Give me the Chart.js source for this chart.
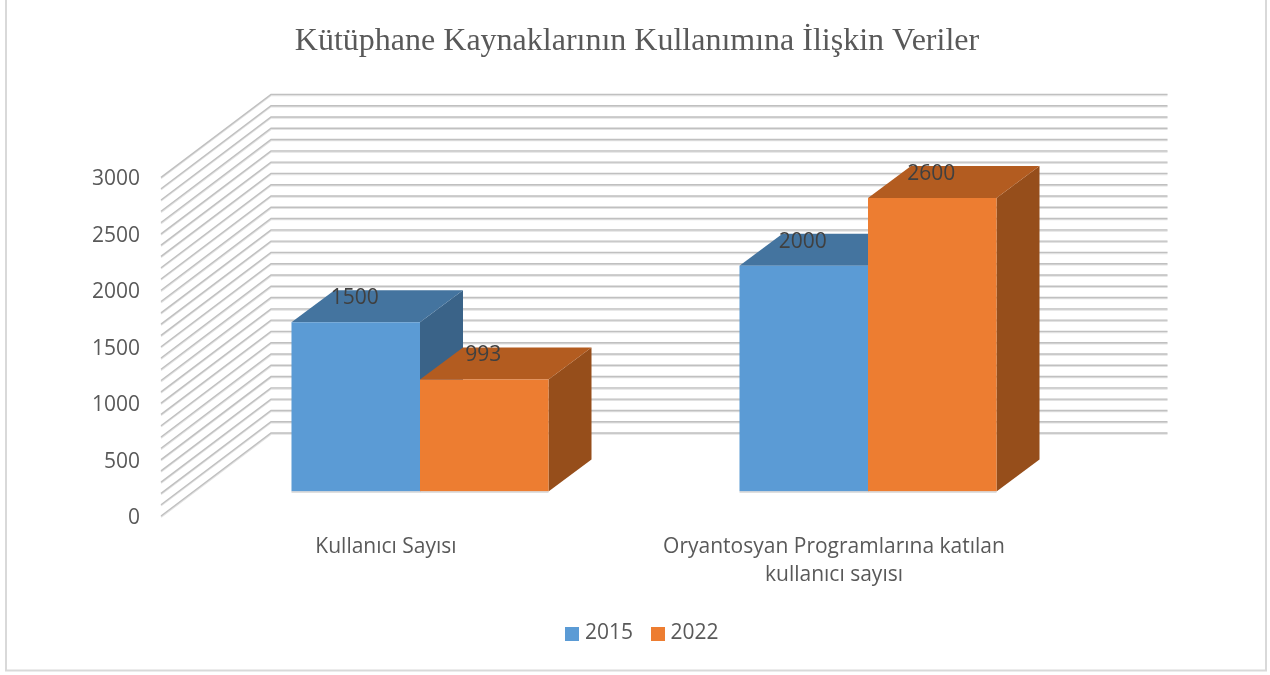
<!DOCTYPE html>
<html><head><meta charset="utf-8">
<style>html,body{margin:0;padding:0;background:#fff;overflow:hidden}canvas{display:block}</style>
<script src="https://cdn.jsdelivr.net/npm/chart.js@4/dist/chart.umd.min.js"></script>
</head><body>
<canvas id="c" width="1270" height="675"></canvas>
<script>
const categories = [['Kullanıcı Sayısı'], ['Oryantosyan Programlarına katılan', 'kullanıcı sayısı']];
const values2015 = [1500, 2000];
const values2022 = [993, 2600];
const seriesNames = ['2015', '2022'];
const titleText = 'Kütüphane Kaynaklarının Kullanımına İlişkin Veriler';

const FONT = 'Open Sans';
const FS = 21;
const wall = {dx: 110, dy: -83};          // floor depth
const barShift = {dx: 35, dy: -24.5};     // bar position on the floor
const barDepth = {dx: 43, dy: -32};
const faces = [{top: '#44749f', side: '#3a6388'}, {top: '#b35c20', side: '#964e1b'}];

const scene = {
  id: 'scene',
  afterLayout(chart) {
    chart.legend.left += 18;      // reference legend sits right of centre
    chart.titleBlock.left += 4;
  },
  beforeDatasetsDraw(chart) {
    const {ctx, scales: {x, y}} = chart;
    ctx.save();
    const L = x.left, R = x.right + wall.dx + 0.5;
    const paths = (off) => {
      for (const t of y.ticks) {
        const py = y.getPixelForValue(t.value) + off;
        ctx.beginPath();
        ctx.moveTo(L, py);
        ctx.lineTo(L + wall.dx, py + wall.dy);
        ctx.lineTo(R, py + wall.dy);
        ctx.stroke();
      }
    };
    ctx.lineWidth = 1.6; ctx.strokeStyle = '#e2e2e2'; paths(1);
    ctx.lineWidth = 1.4; ctx.strokeStyle = '#c0c0c0'; paths(0);
    ctx.translate(barShift.dx, barShift.dy);
    chart.data.datasets.forEach((ds, di) => {
      chart.getDatasetMeta(di).data.forEach(bar => {
        const {x: cx, y: ty, base, width} = bar.getProps(['x', 'y', 'base', 'width'], true);
        const l = cx - width / 2, r = cx + width / 2;
        ctx.fillStyle = faces[di].side;
        ctx.beginPath();
        ctx.moveTo(r, ty); ctx.lineTo(r + barDepth.dx, ty + barDepth.dy);
        ctx.lineTo(r + barDepth.dx, base + barDepth.dy); ctx.lineTo(r, base);
        ctx.closePath(); ctx.fill();
        ctx.fillStyle = faces[di].top;
        ctx.beginPath();
        ctx.moveTo(l, ty); ctx.lineTo(l + barDepth.dx, ty + barDepth.dy);
        ctx.lineTo(r + barDepth.dx, ty + barDepth.dy); ctx.lineTo(r, ty);
        ctx.closePath(); ctx.fill();
      });
    });
  },
  afterDatasetsDraw(chart) {
    const {ctx} = chart;
    ctx.font = FS + 'px ' + FONT;
    ctx.textAlign = 'center';
    ctx.textBaseline = 'middle';
    chart.data.datasets.forEach((ds, di) => {
      chart.getDatasetMeta(di).data.forEach((bar, i) => {
        const {x: cx, y: ty, base, width} = bar.getProps(['x', 'y', 'base', 'width'], true);
        ctx.fillStyle = '#404040';
        ctx.fillText(String(ds.data[i]), cx - 1, ty - 24);
        ctx.fillStyle = '#bfbfbf';
        ctx.fillRect(cx - width / 2, base, width, 1);
      });
    });
    ctx.restore();
  },
  afterDraw(chart) {
    const {ctx} = chart;
    ctx.save();
    ctx.strokeStyle = '#d9d9d9';
    ctx.lineWidth = 2;
    ctx.beginPath();
    ctx.moveTo(6, 0); ctx.lineTo(6, 670.5); ctx.lineTo(1266, 670.5); ctx.lineTo(1266, 0);
    ctx.stroke();
    ctx.restore();
  }
};

function swatch(color) {
  const s = document.createElement('canvas');
  s.width = 14; s.height = 14;
  const g = s.getContext('2d');
  g.fillStyle = color; g.fillRect(0, 0, 14, 14);
  return s;
}
const colors = ['#5b9bd5', '#ed7d31'];

new Chart(document.getElementById('c'), {
  type: 'bar',
  data: {
    labels: categories,
    datasets: [
      {label: seriesNames[0], data: values2015, backgroundColor: colors[0], categoryPercentage: 0.5737, barPercentage: 1},
      {label: seriesNames[1], data: values2022, backgroundColor: colors[1], categoryPercentage: 0.5737, barPercentage: 1}
    ]
  },
  options: {
    responsive: false,
    animation: false,
    layout: {padding: {left: 0, right: 0, top: 0, bottom: 21}},
    scales: {
      x: {
        grid: {display: false}, border: {display: false},
        ticks: {color: '#595959', font: {family: FONT, size: FS, lineHeight: 1.33}, padding: 9, labelOffset: 1, maxRotation: 0, minRotation: 0, autoSkip: false},
        afterFit(s) { s.height = 85; }
      },
      y: {
        min: 0, max: 3000,
        grid: {display: false}, border: {display: false},
        ticks: {
          stepSize: 100, autoSkip: false, color: '#595959', padding: 13, labelOffset: 2,
          font: {family: FONT, size: FS},
          callback: v => (v % 500 === 0 ? String(v) : '')
        },
        afterFit(s) { s.width = 161; }
      },
      spacer: {
        position: 'right', display: true,
        grid: {display: false}, border: {display: false},
        ticks: {display: false},
        afterFit(s) { s.width = 213; }
      }
    },
    plugins: {
      tooltip: {enabled: false},
      title: {
        display: true, text: titleText, color: '#595959',
        font: {family: 'Liberation Serif', size: 32, weight: 'normal', lineHeight: 1.2},
        padding: {top: 22, bottom: 117}
      },
      legend: {
        position: 'bottom',
        labels: {
          color: '#595959', font: {family: FONT, size: FS},
          usePointStyle: true, pointStyleWidth: 5, padding: 22,
          generateLabels(chart) {
            const items = Chart.defaults.plugins.legend.labels.generateLabels(chart);
            items.forEach((it, i) => { it.pointStyle = swatch(colors[i]); });
            return items;
          }
        }
      }
    }
  },
  plugins: [scene]
});
</script>
</body></html>
